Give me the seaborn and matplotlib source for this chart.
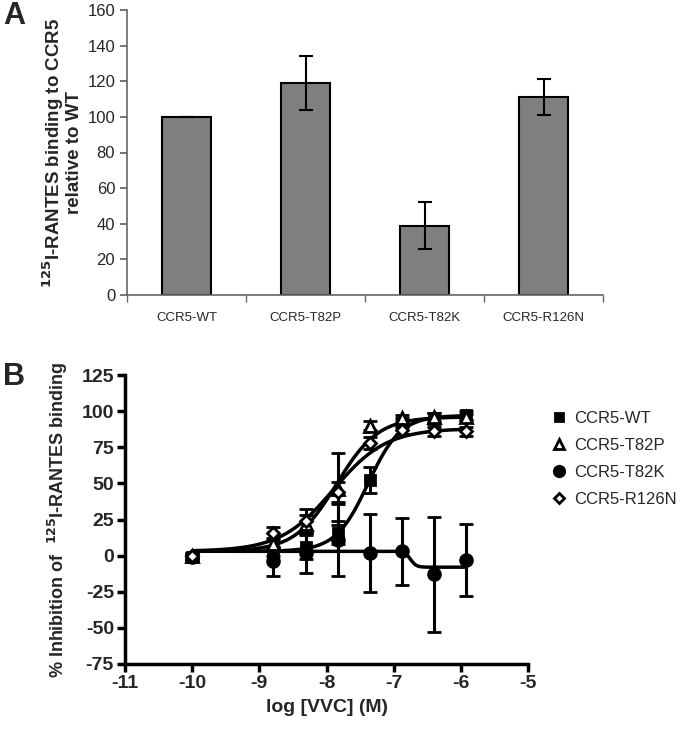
import numpy as np
import pandas as pd
import matplotlib
matplotlib.use("Agg")
import matplotlib.pyplot as plt
from matplotlib.lines import Line2D
import seaborn as sns

sns.set_theme(style="white")
plt.rcParams["font.family"] = ["Liberation Sans", "DejaVu Sans"]

# ---- panel A: relative binding ----
mutants = ["CCR5-WT", "CCR5-T82P", "CCR5-T82K", "CCR5-R126N"]
binding = [100, 119, 39, 111]
binding_err = [0, 15, 13, 10]

# ---- panel B: inhibition curves ----
log_vvc = [-10, -8.79, -8.31, -7.83, -7.35, -6.87, -6.40, -5.92]
series = ["CCR5-WT", "CCR5-T82P", "CCR5-T82K", "CCR5-R126N"]
inh_wt = [-1, 3, 6, 16, 52, 92, 95, 97]
inh_t82p = [0, 8, 22, 46, 90, 95, 96, 96]
inh_t82k = [-1, -4, 2, 11, 2, 3, -13, -3]
inh_r126n = [0, 16, 24, 44, 78, 87, 86, 86]
err_wt = [2, 3, 8, 8, 9, 3, 4, 3]
err_t82p = [2, 3, 6, 25, 3, 2, 3, 2]
err_t82k = [2, 10, 14, 25, 27, 23, 40, 25]
err_r126n = [2, 4, 8, 7, 4, 3, 3, 3]
# four-parameter fit: bottom, top, logEC50, hill
fit_bottom = [3, 3, 3, 3]
fit_top = [97, 96, -8, 88]
fit_logec50 = [-7.38, -7.85, -6.75, -7.9]
fit_hill = [1.8, 1.4, 10, 1.1]
x_ticks = [-11, -10, -9, -8, -7, -6, -5]
y_ticks = [-75, -50, -25, 0, 25, 50, 75, 100, 125]

markers = ["s", "^", "o", "D"]
msizes = [7, 8, 8.5, 6]
faces = ["black", "white", "black", "white"]

fig = plt.figure(figsize=(6.8, 7.34), dpi=100)

# panel A
axA = fig.add_axes([127 / 680, 1 - 295 / 734, 476 / 680, 285 / 734])
dfA = pd.DataFrame({"mutant": mutants, "binding": binding})
sns.barplot(data=dfA, x="mutant", y="binding", color="#7f7f7f", saturation=1,
            width=0.41, edgecolor="black", linewidth=1.5, ax=axA)
axA.errorbar(range(len(mutants)), binding, yerr=binding_err, fmt="none",
             ecolor="black", elinewidth=1.5, capsize=5, capthick=1.5)
axA.set_xlim(-0.5, 3.5)
axA.set_ylim(0, 160)
axA.set_yticks(range(0, 161, 20))
axA.set_xlabel("")
axA.set_ylabel("$^{\\mathbf{125}}$I-RANTES binding to CCR5\nrelative to WT",
               fontsize=13.5, fontweight="bold", labelpad=3, linespacing=1.05)
for s in ["top", "right"]:
    axA.spines[s].set_visible(False)
for s in ["left", "bottom"]:
    axA.spines[s].set_color("#666666")
    axA.spines[s].set_linewidth(1.2)
axA.tick_params(axis="y", left=True, length=5, color="#666666", labelsize=12)
axA.tick_params(axis="x", bottom=False, labelsize=9.5, pad=6)
axA.set_xticks([-0.5, 0.5, 1.5, 2.5, 3.5], minor=True)
axA.tick_params(axis="x", which="minor", bottom=True, length=5, color="#666666")

# panel B
axB = fig.add_axes([125 / 680, 1 - 664 / 734, 403 / 680, 289 / 734])
values = [inh_wt, inh_t82p, inh_t82k, inh_r126n]
errs = [err_wt, err_t82p, err_t82k, err_r126n]
xs = np.linspace(log_vvc[0], log_vvc[-1], 400)
for i, name in enumerate(series):
    ys = fit_bottom[i] + (fit_top[i] - fit_bottom[i]) / (
        1 + 10 ** ((fit_logec50[i] - xs) * fit_hill[i]))
    sns.lineplot(x=xs, y=ys, color="black", linewidth=2.5, ax=axB, zorder=2)
for i, name in enumerate(series):
    axB.errorbar(log_vvc, values[i], yerr=errs[i], fmt=markers[i],
                 ms=msizes[i], mfc=faces[i], mec="black", mew=2,
                 ecolor="black", elinewidth=2.2, capsize=5, capthick=2.2, zorder=3)
axB.set_xlim(-11, -5)
axB.set_ylim(-75, 125)
axB.set_xticks(x_ticks, labels=[str(v) for v in x_ticks])
axB.set_yticks(y_ticks, labels=[str(v) for v in y_ticks])
for s in ["top", "right"]:
    axB.spines[s].set_visible(False)
for s in ["left", "bottom"]:
    axB.spines[s].set_color("black")
    axB.spines[s].set_linewidth(2.5)
axB.tick_params(axis="both", length=6, width=2.5, color="black",
                left=True, bottom=True, pad=2, labelsize=14)
axB.set_xlabel("log [VVC] (M)", fontsize=14, fontweight="bold", labelpad=5)
axB.set_ylabel("% Inhibition of  $^{\\mathbf{125}}$I-RANTES binding", fontsize=13,
               fontweight="bold", labelpad=8)

handles = [Line2D([], [], linestyle="none", marker=markers[i], ms=msizes[i] - 1,
                  mfc=faces[i], mec="black", mew=2) for i in range(4)]
fig.legend(handles, series, loc="upper left", frameon=False, fontsize=12,
           bbox_to_anchor=(534 / 680, 1 - 396 / 734), handletextpad=0.3,
           labelspacing=0.72, handlelength=1.2)

fig.text(0.005, 0.998, "A", fontsize=22, fontweight="bold", va="top")
fig.text(0.005, 1 - 362 / 734, "B", fontsize=22, fontweight="bold", va="top")

# tick label weight is set after a first draw so it sticks
fig.canvas.draw()
for lab in axB.get_xticklabels() + axB.get_yticklabels():
    lab.set_fontweight("bold")

fig.savefig("out.png", dpi=100)
